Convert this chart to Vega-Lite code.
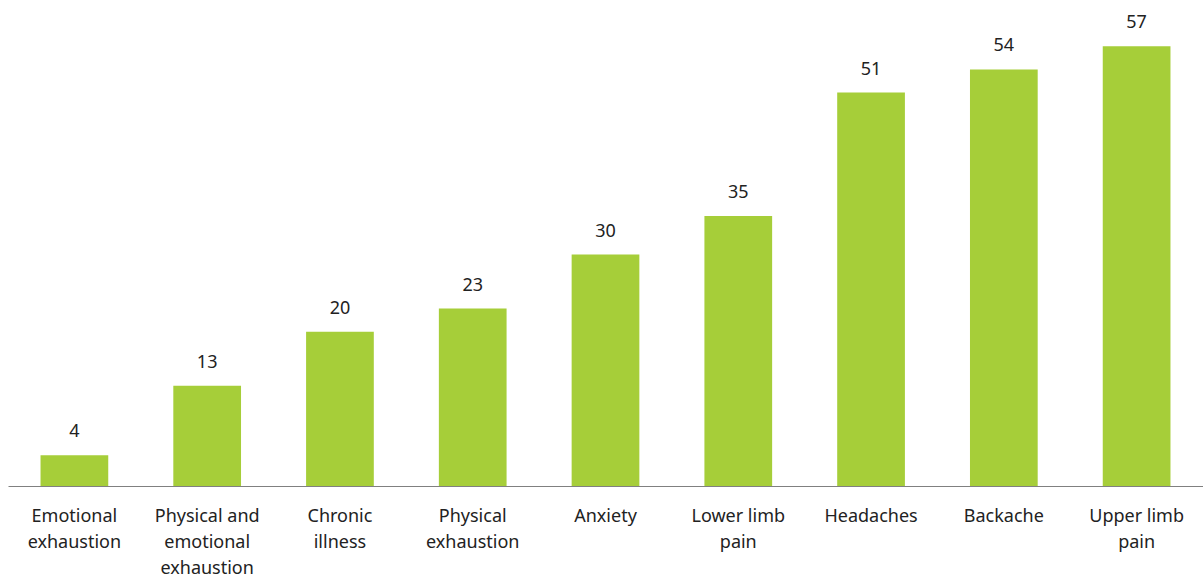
{
  "$schema": "https://vega.github.io/schema/vega-lite/v6.json",
  "width": 1195,
  "height": 486,
  "autosize": {"type": "none"},
  "padding": {"left": 8, "top": 0, "right": 0, "bottom": 91},
  "background": "white",
  "config": {"view": {"stroke": null}, "font": "Noto Sans"},
  "data": {"values": [
    {"cat": "Emotional|exhaustion", "v": 4},
    {"cat": "Physical and|emotional|exhaustion", "v": 13},
    {"cat": "Chronic|illness", "v": 20},
    {"cat": "Physical|exhaustion", "v": 23},
    {"cat": "Anxiety", "v": 30},
    {"cat": "Lower limb|pain", "v": 35},
    {"cat": "Headaches", "v": 51},
    {"cat": "Backache", "v": 54},
    {"cat": "Upper limb|pain", "v": 57}
  ]},
  "encoding": {
    "x": {"field": "cat", "type": "nominal", "sort": null,
      "scale": {"paddingInner": 0.49, "paddingOuter": 0.245},
      "axis": {"title": null, "labelAngle": 0, "ticks": false, "domainColor": "#808080", "domainWidth": 1,
        "labelExpr": "split(datum.label, '|')", "labelFontSize": 18, "labelColor": "#222222",
        "labelLineHeight": 26, "labelPadding": 21, "labelBaseline": "top", "labelFont": "Noto Sans"}},
    "y": {"field": "v", "type": "quantitative", "scale": {"domain": [0, 63]}, "axis": null}
  },
  "layer": [
    {"mark": {"type": "bar", "color": "#a6ce39"}},
    {"mark": {"type": "text", "baseline": "bottom", "dy": -14, "fontSize": 18, "color": "#222222", "font": "Noto Sans"},
     "encoding": {"text": {"field": "v", "type": "quantitative"}}}
  ]
}
